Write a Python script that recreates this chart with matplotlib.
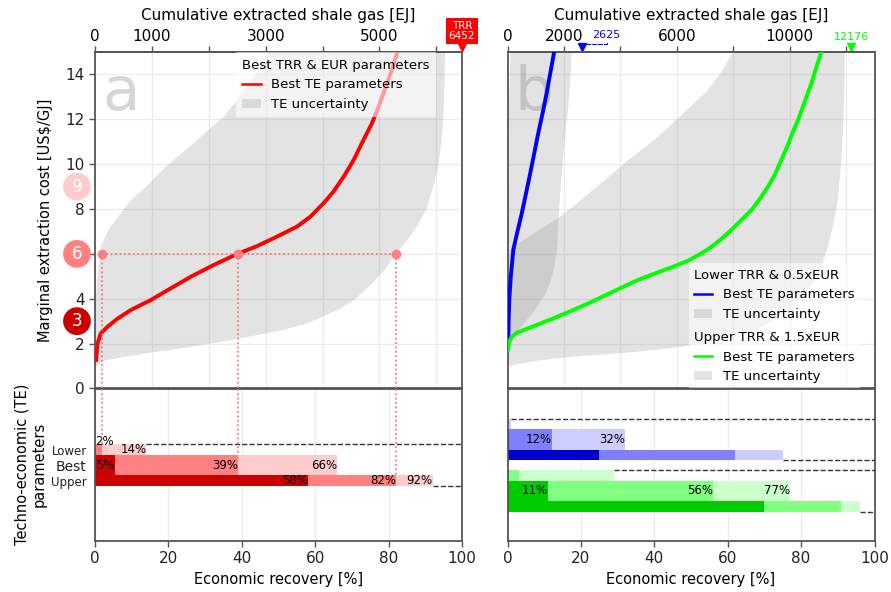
import numpy as np
import matplotlib.pyplot as plt
import matplotlib.transforms as mtransforms
from matplotlib.lines import Line2D
from matplotlib.patches import Patch

plt.rcParams['font.family'] = ['DejaVu Sans']

# technically recoverable resources [EJ]
trr_best = 6452
trr_lower = 2625
trr_upper = 12176
ej_end_b = 13000  # right end of the top axis in panel b

# panel a (best TRR & EUR): recovery [%] vs marginal cost [US$/GJ]
a_best_rec = [0.27, 0.72, 1.6, 3.4, 6.2, 9.8, 15.2, 20.6, 26.1, 32.4, 38.8, 44.2, 49.6, 55.1, 58.7,
              62.3, 65.0, 67.8, 70.5, 73.2, 75.5, 77.3, 79.1, 80.9, 82.4]
a_best_cost = [1.19, 2.02, 2.46, 2.75, 3.12, 3.5, 3.94, 4.46, 4.98, 5.51, 6.0, 6.35, 6.77, 7.22, 7.66,
               8.26, 8.78, 9.45, 10.19, 11.09, 11.83, 12.57, 13.39, 14.2, 15.0]
# TE uncertainty envelope: left edge (cost up), right edge (cost down)
a_te_left_rec = [0.0, 0.0, 0.2, 0.8, 1.6, 3.4, 6.0, 9.8, 14.0, 17.5, 21.5, 26.0, 30.7, 35.0, 38.5,
                 41.5, 44.7, 47.8]
a_te_left_cost = [1.0, 2.0, 4.0, 5.2, 6.3, 7.0, 7.6, 8.4, 9.0, 9.6, 10.2, 10.8, 11.5, 12.1, 12.8,
                  13.5, 14.2, 15.0]
a_te_right_rec = [95.4, 95.2, 94.9, 94.4, 93.6, 92.2, 90.3, 87.7, 85.0, 82.0, 78.5, 75.0, 71.0, 66.8,
                  62.0, 57.8, 51.0, 44.2, 37.0, 30.6, 24.0, 17.0, 8.0, 3.0, 0.0]
a_te_right_cost = [15.0, 13.5, 12.0, 11.0, 10.0, 9.0, 8.0, 7.2, 6.6, 6.0, 5.2, 4.6, 4.0, 3.55,
                   3.2, 2.9, 2.6, 2.38, 2.15, 1.98, 1.8, 1.64, 1.41, 1.25, 1.0]

# panel b: lower TRR & 0.5xEUR (blue), upper TRR & 1.5xEUR (green)
b_low_rec = [0.1, 0.2, 0.3, 0.5, 0.9, 1.6, 2.7, 3.6, 4.4, 5.3, 6.2, 7.3, 8.4, 9.6, 10.7, 11.7, 12.7]
b_low_cost = [1.8, 2.1, 3.0, 4.0, 5.0, 6.2, 7.0, 7.6, 8.2, 8.9, 9.6, 10.5, 11.4, 12.3, 13.2, 14.1, 15.0]
b_up_rec = [0.1, 0.46, 1.19, 2.6, 4.8, 8.4, 13.0, 17.5, 22.0, 26.6, 31.1, 35.6, 40.2, 44.7, 49.2, 52.9,
            55.6, 58.3, 61.0, 63.7, 66.5, 68.7, 71.0, 72.8, 74.6, 76.4, 77.8, 79.2, 81.0, 82.8, 84.1, 85.5]
b_up_cost = [1.71, 2.08, 2.31, 2.49, 2.63, 2.86, 3.16, 3.47, 3.79, 4.15, 4.5, 4.84, 5.13, 5.4, 5.7, 6.03,
             6.32, 6.67, 7.07, 7.51, 7.96, 8.44, 9.0, 9.52, 10.19, 10.86, 11.45, 11.98, 12.8, 13.6, 14.29, 15.0]
b_low_te_left_rec = [0.0, 0.0, 0.3, 0.8]
b_low_te_left_cost = [1.8, 6.0, 12.0, 15.0]
b_low_te_right_rec = [17.5, 17.1, 16.6, 16.0, 15.4, 14.8, 14.3, 13.9, 13.6, 13.0, 11.8, 10.3, 8.7,
                      6.5, 3.9, 2.0, 0.7, 0.0]
b_low_te_right_cost = [15.0, 13.8, 12.6, 11.8, 10.8, 9.6, 8.6, 7.6, 6.5, 5.6, 4.8, 4.2, 3.8,
                       3.3, 2.8, 2.35, 2.0, 1.8]
b_up_te_left_rec = [0.0, 0.0, 0.2, 0.7, 7.0, 13.9, 20.0, 26.6, 33.0, 40.2, 45.5, 50.1, 54.0, 57.4, 61.5]
b_up_te_left_cost = [1.0, 3.0, 5.0, 6.2, 6.9, 7.6, 8.4, 9.3, 10.2, 11.1, 11.9, 12.6, 13.2, 13.9, 15.0]
b_up_te_right_rec = [91.9, 91.8, 91.6, 91.3, 91.0, 90.5, 90.0, 88.9, 87.3, 85.6, 83.7, 80.3, 76.4, 72.0,
                     67.4, 60.5, 53.8, 44.7, 35.6, 26.5, 17.5, 8.7, 0.0]
b_up_te_right_cost = [15.0, 13.5, 12.3, 11.2, 10.3, 9.3, 8.4, 7.4, 6.3, 5.5, 4.8, 4.1, 3.5, 3.0,
                      2.6, 2.25, 2.0, 1.8, 1.64, 1.52, 1.41, 1.25, 1.0]

# economic recovery [%] reached at 3, 6 and 9 US$/GJ, per TE parameter set
cost_levels = [3, 6, 9]
te_rows = ['Lower', 'Best', 'Upper']
red_lower = [0, 1.8, 14]
red_best = [5.4, 39, 66]
red_upper = [58, 82, 92]
blue_lower = [0, 0, 1]
blue_best = [0.3, 12, 32]
blue_upper = [25, 62, 75]
green_lower = [0, 3, 29]
green_best = [11, 56, 77]
green_upper = [70, 91, 96]

reds = ['#cc0000', '#ff8080', '#ffcccc']
blues = ['#0000cc', '#8080ff', '#ccccff']
greens = ['#00cc00', '#80ff80', '#ccffcc']
te_gray = '#808080'
te_alpha = 0.22
spine_c = '#555555'
grid_c = '#ebebeb'

fig = plt.figure(figsize=(8.91, 5.92), dpi=100)
axa = fig.add_axes([0.1066, 0.3438, 0.4119, 0.5684])
axa2 = fig.add_axes([0.1066, 0.0861, 0.4119, 0.2576])
axb = fig.add_axes([0.5696, 0.3438, 0.4119, 0.5684])
axb2 = fig.add_axes([0.5696, 0.0861, 0.4119, 0.2576])

row_off = [-1, 0, 1]
row_h = [0.7, 1.3, 0.7]


def style(ax):
    for s in ax.spines.values():
        s.set_color(spine_c)
        s.set_linewidth(1.3)
    ax.tick_params(colors='#222222', labelsize=11, length=4, width=1, color=spine_c)
    ax.set_axisbelow(True)


def top_axis(ax, ej_end, ticks, labels):
    sec = ax.secondary_xaxis('top', functions=(lambda p: p * ej_end / 100, lambda e: e * 100 / ej_end))
    sec.set_xticks(ticks, labels=labels)
    sec.tick_params(labelsize=11, length=4, width=1, color=spine_c, pad=2)
    sec.spines['top'].set_color(spine_c)
    sec.spines['top'].set_linewidth(1.3)
    sec.set_xlabel('Cumulative extracted shale gas [EJ]', fontsize=11, labelpad=6)
    # vertical grid follows the EJ ticks
    ax.set_xticks([t * 100 / ej_end for t in ticks], minor=True)
    ax.grid(which='minor', axis='x', color=grid_c, lw=0.9)
    ax.grid(which='major', axis='y', color=grid_c, lw=0.9)
    ax.tick_params(axis='x', which='both', bottom=False, labelbottom=False)


def draw_group(ax, center, rows, shades, labelled):
    for vals, off, h, lab in zip(rows, row_off, row_h, labelled):
        y = center + off
        for lev in (2, 1, 0):
            ax.barh(y, vals[lev], height=h, color=shades[lev], lw=0, zorder=2)
            if lab and vals[lev] >= 1:
                if vals[lev] < 4:
                    ax.text(5, y - 0.55, f'{vals[lev]:.0f}%', ha='right', va='center', fontsize=8.5, zorder=3)
                else:
                    ax.text(vals[lev], y, f'{vals[lev]:.0f}%', ha='right', va='center', fontsize=8.5, zorder=3)
    top = center - 1 - row_h[0] / 2
    bot = center + 1 + row_h[2] / 2
    ax.hlines(top, max(rows[0]), 100, colors='#333333', linestyles='--', lw=1, zorder=3)
    ax.hlines(bot, max(rows[2]), 100, colors='#333333', linestyles='--', lw=1, zorder=3)


for ax in (axa, axb):
    style(ax)
    ax.set_xlim(0, 100)
    ax.set_ylim(0, 15)
for ax in (axa2, axb2):
    style(ax)
    ax.set_xlim(0, 100)
    ax.set_ylim(4.9, -4.94)
    ax.set_xticks(np.arange(0, 101, 20))
    ax.grid(axis='x', color=grid_c, lw=0.9)
    ax.set_xlabel('Economic recovery [%]', fontsize=10.5)

# ---------- panel a ----------
top_axis(axa, trr_best, [0, 1000, 2000, 3000, 4000, 5000, 6000],
         ['0', '1000', '', '3000', '', '5000', ''])
yt = np.arange(0, 15, 2)
# the "6" tick label sits under the cost badge
axa.set_yticks(yt, labels=['' if v in cost_levels else str(v) for v in yt])
axb.set_yticks(yt)
axa.set_ylabel('Marginal extraction cost [US$/GJ]', fontsize=10.5, labelpad=9)
axa.fill(a_te_left_rec + a_te_right_rec, a_te_left_cost + a_te_right_cost,
         color=te_gray, alpha=te_alpha, lw=0, zorder=1)
axa.plot(a_best_rec, a_best_cost, color='#ff0000', lw=2.8, zorder=3, solid_capstyle='butt')
axa.text(0.02, 0.828, 'a', transform=axa.transAxes, fontsize=44, color='gray', alpha=0.32,
         ha='left', va='baseline', zorder=1.5)

# cost = 6 crossings
x6 = [red_lower[1], red_best[1], red_upper[1]]
axa.plot([x6[0], x6[2]], [6, 6], ls=':', color='#ff6666', lw=1.2, zorder=4)
axa.plot(x6, [6] * 3, 'o', color='#ff8080', ms=6, zorder=5)
axa.vlines(x6, 0, 6, colors='#ff6666', linestyles=':', lw=1.2, zorder=4)
row_tops = [row_off[i] - row_h[i] / 2 for i in range(3)]
axa2.vlines(x6, -4.94, row_tops, colors='#ff6666', linestyles=':', lw=1.2, zorder=4)

# cost level badges on the y axis
ytr = axa.get_yaxis_transform()
axa.scatter([-0.049] * 3, cost_levels, s=400, c=reds, transform=ytr, clip_on=False, zorder=6, lw=0)
for c in cost_levels:
    axa.text(-0.049, c, str(c), transform=ytr, color='white', fontsize=12, ha='center', va='center',
             zorder=7, clip_on=False)

# TRR marker
tri_a = mtransforms.offset_copy(axa.get_xaxis_transform(), fig=fig, x=0, y=3.5, units='points')
axa.plot([trr_best * 100 / trr_best], [1.0], marker='v', color='red', ms=6, transform=tri_a, clip_on=False)
axa.text(trr_best * 100 / trr_best, 1.062, f'TRR\n{trr_best}', transform=axa.get_xaxis_transform(),
         color='white', fontsize=7.5, ha='center', va='center', linespacing=0.95,
         bbox=dict(boxstyle='square,pad=0.3', fc='red', ec='none'))

axa.legend(handles=[Line2D([], [], color='red', lw=1.8),
                    Patch(facecolor=te_gray, alpha=te_alpha, lw=0)],
           labels=['Best TE parameters', 'TE uncertainty'],
           title='Best TRR & EUR parameters', loc='upper right', bbox_to_anchor=(0.93, 1.0),
           fontsize=9.5, title_fontsize=9.5, handlelength=1.4, borderpad=0.5,
           alignment='left', frameon=True, framealpha=0.6, edgecolor='none', fancybox=False,
           borderaxespad=0.0)

draw_group(axa2, 0, [red_lower, red_best, red_upper], reds, [True, True, True])
axa2.set_yticks(row_off, labels=te_rows)
axa2.tick_params(axis='y', length=0, pad=6)
for t, fs in zip(axa2.get_yticklabels(), [8.5, 10, 8.5]):
    t.set_fontsize(fs)
axa2.set_ylabel('Techno-economic (TE)\nparameters', fontsize=10.5, labelpad=3)

# ---------- panel b ----------
top_axis(axb, ej_end_b, [0, 2000, 4000, 6000, 8000, 10000, 12000],
         ['0', '2000', '', '6000', '', '10000', ''])
axb.tick_params(axis='y', left=False, labelleft=False)
axb.fill(b_low_te_left_rec + b_low_te_right_rec, b_low_te_left_cost + b_low_te_right_cost,
         color=te_gray, alpha=te_alpha, lw=0, zorder=1)
axb.fill(b_up_te_left_rec + b_up_te_right_rec, b_up_te_left_cost + b_up_te_right_cost,
         color=te_gray, alpha=te_alpha, lw=0, zorder=1)
axb.plot(b_low_rec, b_low_cost, color='#0000ff', lw=2.8, zorder=3)
axb.plot(b_up_rec, b_up_cost, color='#00ff00', lw=2.8, zorder=3)
axb.text(0.02, 0.828, 'b', transform=axb.transAxes, fontsize=44, color='gray', alpha=0.32,
         ha='left', va='baseline', zorder=1.5)

tri_b = mtransforms.offset_copy(axb.get_xaxis_transform(), fig=fig, x=0, y=3.5, units='points')
p_low = trr_lower * 100 / ej_end_b
p_up = trr_upper * 100 / ej_end_b
axb.plot([p_low], [1.0], marker='v', color='#0000ff', ms=6, transform=tri_b, clip_on=False)
axb.plot([p_up], [1.0], marker='v', color='#00ff00', ms=6, transform=tri_b, clip_on=False)
tip_b = mtransforms.offset_copy(axb.get_xaxis_transform(), fig=fig, x=0, y=6, units='points')
axb.annotate(str(trr_lower), xy=(p_low, 1.0), xycoords=tip_b, xytext=(18, 6), textcoords='offset points',
             color='#0000ff', fontsize=8, ha='center', va='center', annotation_clip=False,
             arrowprops=dict(arrowstyle='-', color='#0000ff', ls='--', lw=0.8, shrinkA=0, shrinkB=0,
                             connectionstyle='angle,angleA=90,angleB=0,rad=0'))
axb.text(p_up, 1.044, str(trr_upper), transform=axb.get_xaxis_transform(), color='#00ff00',
         fontsize=8, ha='center', va='center')

gray_patch = Patch(facecolor=te_gray, alpha=te_alpha, lw=0)
leg1 = axb.legend(handles=[Line2D([], [], color='#0000ff', lw=1.8), gray_patch],
                  labels=['Best TE parameters', 'TE uncertainty'], title='Lower TRR & 0.5xEUR',
                  loc='lower right', bbox_to_anchor=(0.96, 0.185), fontsize=9.5, title_fontsize=9.5,
                  handlelength=1.4, alignment='left', framealpha=0.6, edgecolor='none', fancybox=False,
                  borderaxespad=0)
axb.add_artist(leg1)
axb.legend(handles=[Line2D([], [], color='#00ff00', lw=1.8), gray_patch],
           labels=['Best TE parameters', 'TE uncertainty'], title='Upper TRR & 1.5xEUR',
           loc='lower right', bbox_to_anchor=(0.96, 0.0), fontsize=9.5, title_fontsize=9.5,
           handlelength=1.4, alignment='left', framealpha=0.6, edgecolor='none', fancybox=False,
           borderaxespad=0)

draw_group(axb2, -1.65, [blue_lower, blue_best, blue_upper], blues, [False, True, False])
draw_group(axb2, 1.65, [green_lower, green_best, green_upper], greens, [False, True, False])
axb2.tick_params(axis='y', left=False, labelleft=False)

fig.savefig('out.png', dpi=100)
